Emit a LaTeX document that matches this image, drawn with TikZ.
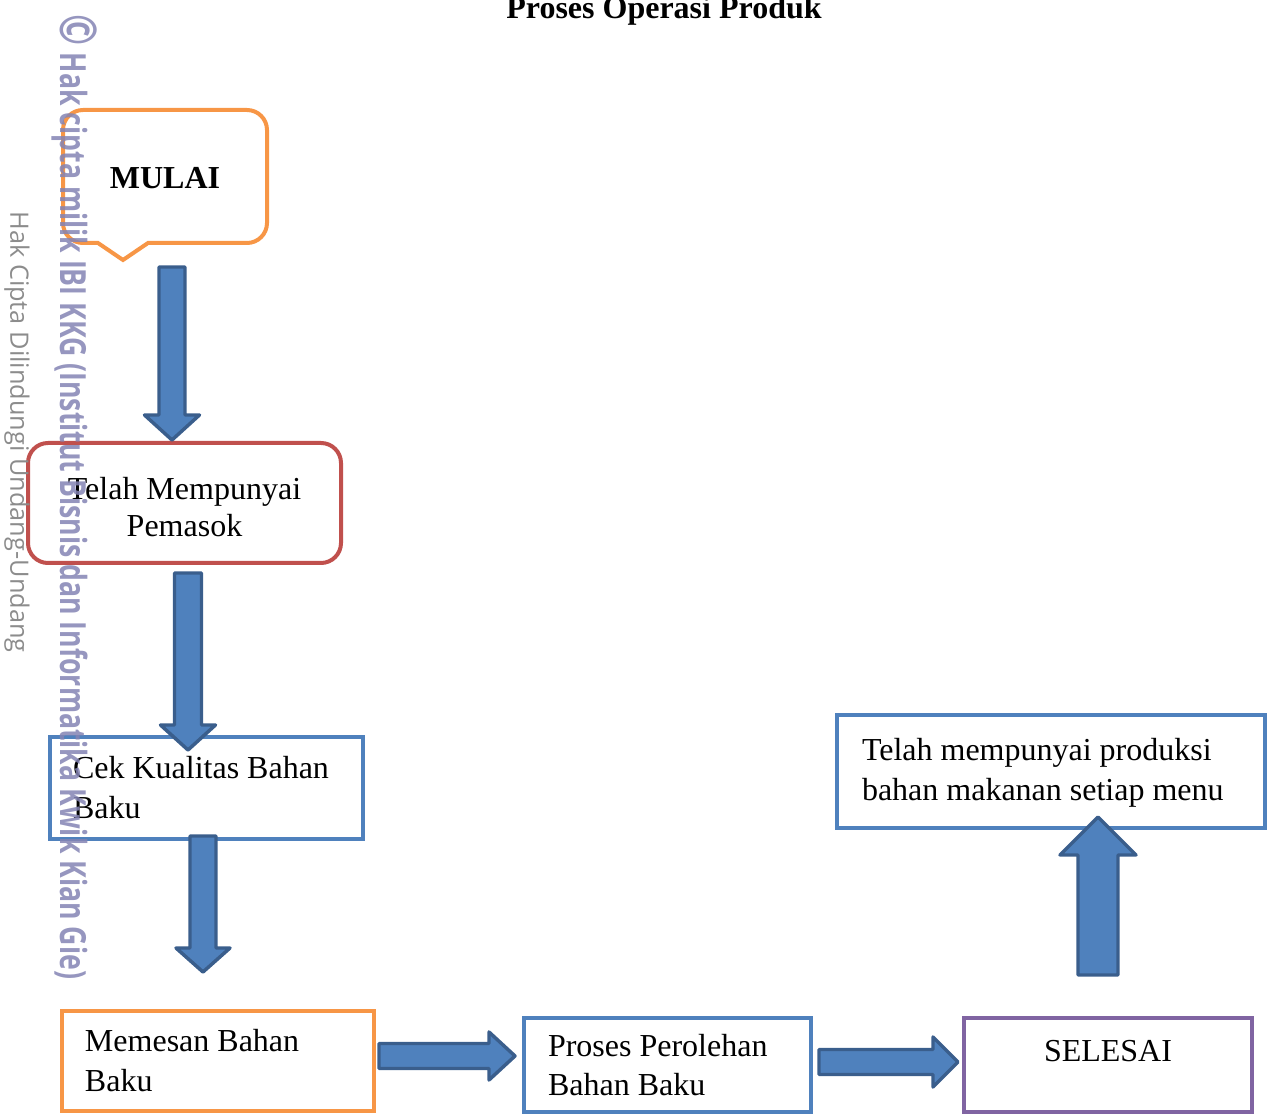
\documentclass[tikz,border=0pt]{standalone}
\usepackage{fontspec}
\usepackage{graphicx}
\setmainfont{Liberation Serif}
\newfontfamily\wmfont{Open Sans}
\definecolor{oranye}{HTML}{F79646}
\definecolor{merah}{HTML}{C0504D}
\definecolor{biru}{HTML}{4F81BD}
\definecolor{ungu}{HTML}{8064A2}
\definecolor{panahisi}{HTML}{4F81BD}
\definecolor{panahgaris}{HTML}{3A5E8C}
\definecolor{wmungu}{HTML}{8484B4}
\definecolor{wmabu}{HTML}{8C8C8C}
\newcommand{\px}{0.375pt}
\tikzset{
	kotak/.style={draw, line width=1.5pt, inner sep=0pt, font=\fontsize{12}{15}\selectfont},
	panah/.style={fill=panahisi, draw=panahgaris, line width=1.3pt, line join=round},
}
% start, angle, length, shaft half width, head half width, head length
\newcommand{\panahblok}[6]{%
	\draw[panah, shift={(#1)}, rotate=#2] (0,-#4) -- (#3-#6,-#4) -- (#3-#6,-#5) -- (#3,0) -- (#3-#6,#5) -- (#3-#6,#4) -- (0,#4) -- cycle;}
\begin{document}
\begin{tikzpicture}[x=0.375pt, y=-0.375pt]
	\useasboundingbox (0,0) rectangle (1277,1115);
	\node[anchor=base, font=\bfseries\fontsize{12}{14}\selectfont] (judul) at (664,19) {Proses Operasi Produk};
	% mulai
	\draw[oranye, line width=1.5pt] (123,260) -- (98,243) [rounded corners=7.5pt] -- (63,243) -- (63,110) -- (267,110) -- (267,243) [sharp corners] -- (148,243) -- cycle;
	\node[font=\bfseries\fontsize{12}{14}\selectfont] (mulai) at (165,178) {MULAI};
	\node[kotak, draw=merah, rounded corners=7.5pt, minimum width=313*\px, minimum height=120*\px, align=center, font=\fontsize{12}{14}\selectfont] (pemasok) at (184.5,503) {Telah Mempunyai\\Pemasok\\[-17pt]};
	\node[kotak, draw=biru, minimum width=313*\px, minimum height=102*\px, text width=267*\px, align=flush left] (cek) at (206.5,788) {Cek Kualitas Bahan\\Baku};
	\node[kotak, draw=oranye, minimum width=312*\px, minimum height=100*\px, text width=266*\px, align=flush left] (memesan) at (218,1061) {Memesan Bahan\\Baku};
	\node[kotak, draw=biru, minimum width=287*\px, minimum height=94*\px, text width=239*\px, align=flush left, font=\fontsize{12}{14.3}\selectfont] (perolehan) at (667.5,1065) {Proses Perolehan\\Bahan Baku};
	\node[kotak, draw=ungu, minimum width=288*\px, minimum height=94*\px, align=center] (selesai) at (1108,1065) {SELESAI\\[-4.5pt]\mbox{}};
	\node[kotak, draw=biru, minimum width=428*\px, minimum height=113*\px, text width=378*\px, align=flush left] (produksi) at (1051,771.5) {\\[-6pt]Telah mempunyai produksi\\bahan makanan setiap menu};
	% panah
	\panahblok{172,267}{-90}{173}{13}{27.5}{25}
	\panahblok{188,573}{-90}{177}{13.5}{27.5}{25}
	\panahblok{203,836}{-90}{136}{13}{27}{24}
	\panahblok{379,1056}{0}{136}{12.5}{24}{26}
	\panahblok{819,1062}{0}{139}{12.5}{25}{25}
	\panahblok{1098,975}{90}{158}{20}{38}{38}
	% watermark
	\node[rotate=-90, text=wmabu, font=\wmfont\fontsize{9.5}{10}\selectfont] (dilindungi) at (17,432) {Hak Cipta Dilindungi Undang-Undang};
	\node[rotate=-90, text=wmungu, opacity=0.85, font=\wmfont\bfseries\fontsize{13.5}{14}\selectfont] (hakcipta) at (75,497) {\scalebox{0.74}[1]{{\fontsize{19}{19}\selectfont©} Hak cipta milik IBI KKG (Institut Bisnis dan Informatika Kwik Kian Gie)}};
\end{tikzpicture}
\end{document}
